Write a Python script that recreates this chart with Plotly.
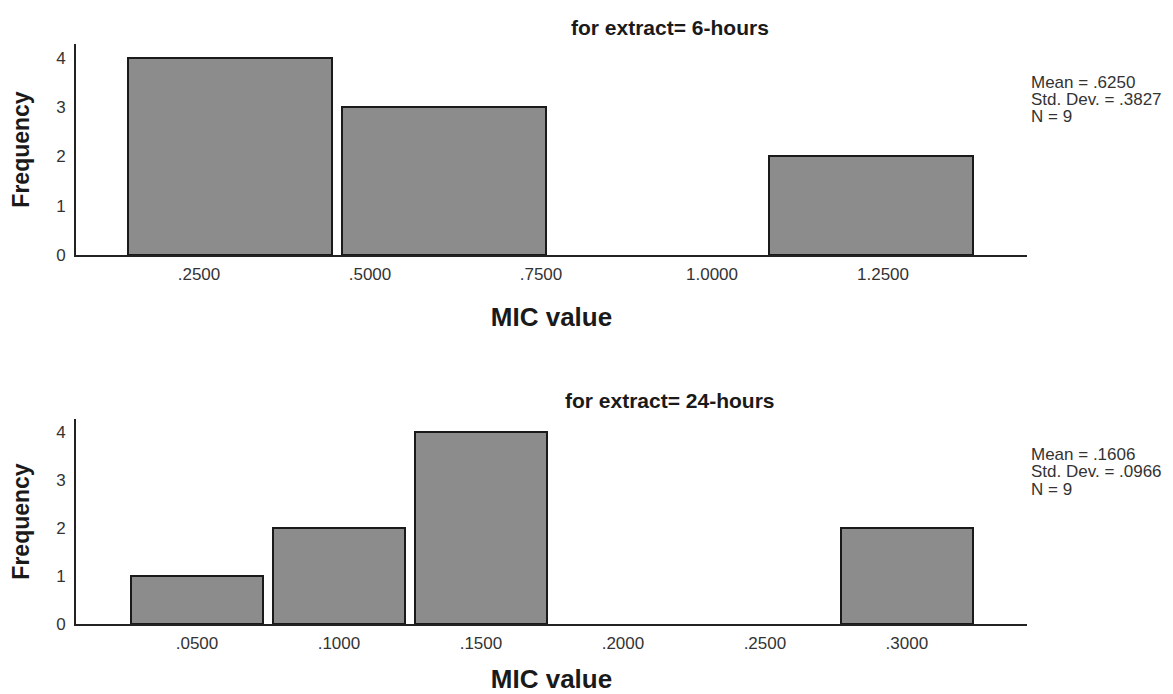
import plotly.graph_objects as go

# ---------------- data ----------------
top_centers = [0.295, 0.608, 1.233]
top_counts = [4, 3, 2]
top_tickvals = [0.25, 0.50, 0.75, 1.00, 1.25]
top_ticktext = [".2500", ".5000", ".7500", "1.0000", "1.2500"]
top_title = "for extract= 6-hours"
top_stats = ["Mean = .6250", "Std. Dev. = .3827", "N = 9"]

bot_centers = [0.05, 0.10, 0.15, 0.30]
bot_counts = [1, 2, 4, 2]
bot_tickvals = [0.05, 0.10, 0.15, 0.20, 0.25, 0.30]
bot_ticktext = [".0500", ".1000", ".1500", ".2000", ".2500", ".3000"]
bot_title = "for extract= 24-hours"
bot_stats = ["Mean = .1606", "Std. Dev. = .0966", "N = 9"]

y_tickvals = [0, 1, 2, 3, 4]
x_label = "MIC value"
y_label = "Frequency"

# ---------------- style ----------------
FONT = "Liberation Sans, Arial, sans-serif"
BAR_FILL = "#8c8c8c"
BAR_LINE = "#1a1a1a"
AXIS_COL = "#222222"
TICK_COL = "#333333"
TITLE_COL = "#1a1a1a"

W, H = 1173, 694
ML, MR, MT, MB = 76, 146, 44, 70
PW = W - ML - MR
PH = H - MT - MB


def px_x(px):
    return (px - ML) / PW


def px_y(py):
    return (H - MB - py) / PH


fig = go.Figure()

fig.add_trace(go.Bar(x=top_centers, y=top_counts, width=0.298,
                     marker=dict(color=BAR_FILL, line=dict(color=BAR_LINE, width=2)),
                     xaxis="x", yaxis="y", showlegend=False, hoverinfo="x+y"))
fig.add_trace(go.Bar(x=bot_centers, y=bot_counts, width=0.0466,
                     marker=dict(color=BAR_FILL, line=dict(color=BAR_LINE, width=2)),
                     xaxis="x2", yaxis="y2", showlegend=False, hoverinfo="x+y"))

xcommon = dict(showline=True, linecolor=AXIS_COL, linewidth=2, showgrid=False,
               zeroline=False, ticks="", ticklabelstandoff=3,
               tickfont=dict(family=FONT, size=17, color=TICK_COL),
               title=dict(text=x_label, font=dict(family=FONT, size=26, color=TITLE_COL,
                                                   weight="bold")))
ycommon = dict(showline=True, linecolor=AXIS_COL, linewidth=2, showgrid=False,
               zeroline=False, ticks="", ticklabelstandoff=5,
               tickvals=y_tickvals, ticktext=[str(v) for v in y_tickvals],
               tickfont=dict(family=FONT, size=17, color=TICK_COL),
               title=dict(text=y_label, standoff=20,
                          font=dict(family=FONT, size=23, color=TITLE_COL, weight="bold")))

fig.update_layout(
    width=W, height=H,
    margin=dict(l=ML, r=MR, t=MT, b=MB, autoexpand=False),
    paper_bgcolor="white", plot_bgcolor="white",
    bargap=0,
    xaxis=dict(xcommon, domain=[0, 1], anchor="y", range=[0.0702, 1.4605],
               tickvals=top_tickvals, ticktext=top_ticktext),
    yaxis=dict(ycommon, domain=[px_y(255), 1.0], anchor="x", range=[0, 4.28]),
    xaxis2=dict(xcommon, domain=[0, 1], anchor="y2", range=[0.0074, 0.3423],
                tickvals=bot_tickvals, ticktext=bot_ticktext),
    yaxis2=dict(ycommon, domain=[0, px_y(419)], anchor="x2", range=[0, 4.27]),
)
fig.layout.xaxis.title.standoff = 24
fig.layout.xaxis2.title.standoff = 20

# subplot titles
for title, ypix in [(top_title, 27), (bot_title, 400)]:
    fig.add_annotation(x=px_x(670), y=px_y(ypix), xref="paper", yref="paper",
                       text=title, showarrow=False, xanchor="center", yanchor="middle",
                       font=dict(family=FONT, size=21, color=TITLE_COL, weight="bold"))

# statistics boxes
for stats, ys in [(top_stats, [83, 100, 117]), (bot_stats, [455, 472, 489])]:
    for line, ypix in zip(stats, ys):
        fig.add_annotation(x=px_x(1029), y=px_y(ypix), xref="paper", yref="paper",
                           text=line, showarrow=False, xanchor="left", yanchor="middle",
                           font=dict(family=FONT, size=17, color=TICK_COL))

fig.write_html("out.html", config={"displayModeBar": False},
               post_script="document.body.style.margin='0';")
